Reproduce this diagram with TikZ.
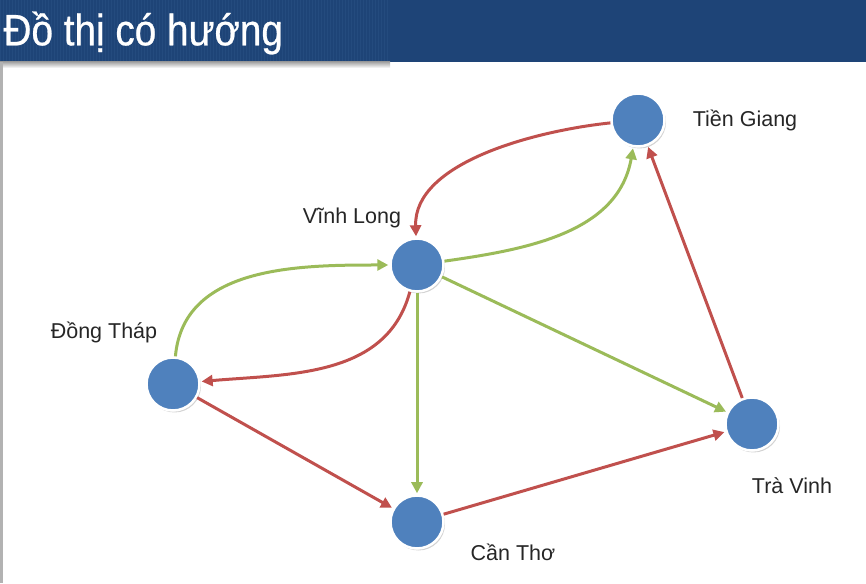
\documentclass[tikz,border=0pt]{standalone}
\usepackage{fontspec}
\setmainfont{Liberation Sans}
\newfontfamily\headfont[FakeStretch=0.88,FakeBold=0.6]{Liberation Sans}
\usetikzlibrary{arrows.meta,shadows}
\definecolor{BarBlue}{HTML}{1E4477}
\definecolor{BarStripe}{HTML}{244B7E}
\definecolor{DotBlue}{HTML}{4F81BD}
\definecolor{EdgeGreen}{HTML}{9BBB59}
\definecolor{EdgeRed}{HTML}{C0504D}

\begin{document}
\begin{tikzpicture}[x=1pt,y=1pt,
  town/.style={circle,fill=DotBlue,draw=white,line width=2.5pt,minimum size=53pt,
    drop shadow={shadow xshift=1.5pt,shadow yshift=-2pt,opacity=.35}},
  townname/.style={font=\fontsize{21.5}{24}\selectfont,text=black!85},
  go/.style={line width=3pt,EdgeGreen,-{Triangle[length=11pt,width=11pt]},shorten >=1pt},
  back/.style={line width=3pt,EdgeRed,-{Triangle[length=11pt,width=11pt]},shorten >=1pt}]
\useasboundingbox (0,0) rectangle (866,583);

% title bar
\fill[BarBlue] (0,521) rectangle (866,583);
\foreach \sx in {0,3,...,387} \draw[BarStripe,line width=1pt] (\sx,521) -- (\sx,583);
\shade[top color=black!35,bottom color=white] (0,515) rectangle (390,521);
\fill[black!30] (0,0) rectangle (2.5,521);
\node[anchor=west,text=white,font=\headfont\fontsize{44}{48}\selectfont] (title) at (0,550) {Đồ thị có hướng};

% towns
\node[town] (vl) at (417,318) {};
\node[town] (tg) at (638,463) {};
\node[town] (dt) at (173,199) {};
\node[town] (ct) at (417,61) {};
\node[town] (tv) at (752,159) {};

\node[townname] (vlname) at (352,365) {Vĩnh Long};
\node[townname] (tgname) at (745,463) {Tiền Giang};
\node[townname] (dtname) at (104,251) {Đồng Tháp};
\node[townname] (ctname) at (513,31) {Cần Thơ};
\node[townname] (tvname) at (792,97) {Trà Vinh};

% arcs
\draw[go] (vl) to[out=8,in=-100] (tg);
\draw[back] (tg) to[out=186,in=92,looseness=.85] (vl);
\draw[go] (dt) to[out=85,in=180] (vl);
\draw[back] (vl) to[out=-105,in=5] (dt);
\draw[go] (vl) -- (ct);
\draw[go] (vl) -- (tv);
\draw[back] (dt) -- (ct);
\draw[back] (ct) -- (tv);
\draw[back] (tv) -- (tg);
\end{tikzpicture}
\end{document}
